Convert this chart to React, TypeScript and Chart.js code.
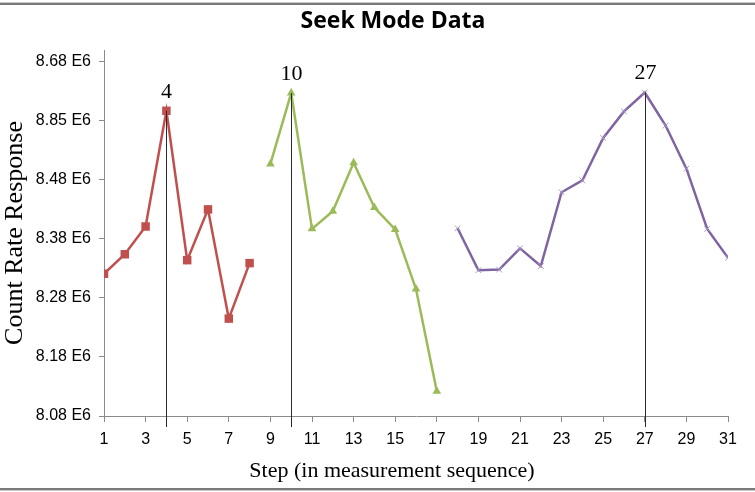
import { useEffect, useRef } from 'react';
import { Chart, registerables } from 'chart.js';

Chart.register(...registerables);

// Step numbers (x) and count-rate readings in units of 1E6 (y) for each seek phase
const stepsA = [1, 2, 3, 4, 5, 6, 7, 8];
const valuesA = [8.321, 8.354, 8.401, 8.597, 8.344, 8.43, 8.245, 8.339];

const stepsB = [9, 10, 11, 12, 13, 14, 15, 16, 17];
const valuesB = [8.507, 8.627, 8.397, 8.427, 8.509, 8.433, 8.396, 8.295, 8.122];

const stepsC = [18, 19, 20, 21, 22, 23, 24, 25, 26, 27, 28, 29, 30, 31];
const valuesC = [8.398, 8.327, 8.328, 8.364, 8.334, 8.459, 8.479, 8.551, 8.596, 8.628, 8.572, 8.499, 8.397, 8.348];

// Axis ticks
const xTickSteps = [1, 3, 5, 7, 9, 11, 13, 15, 17, 19, 21, 23, 25, 27, 29, 31];
const yTickValues = [8.08, 8.18, 8.28, 8.38, 8.48, 8.58, 8.68];
const yTickLabels = ['8.08 E6', '8.18 E6', '8.28 E6', '8.38 E6', '8.48 E6', '8.85 E6', '8.68 E6'];

// Steps where each phase peaks, marked with a drop line and its step number
const peakSteps = [4, 10, 27];

const TITLE = 'Seek Mode Data';
const X_TITLE = 'Step (in measurement sequence)';
const Y_TITLE = 'Count Rate Response';

const toPoints = (xs: number[], ys: number[]) => xs.map((x, i) => ({ x, y: ys[i] }));

const annotations = {
  id: 'seekAnnotations',
  afterDatasetsDraw(chart: any) {
    const { ctx, scales, chartArea, data } = chart;
    const xs = scales.x;
    const ys = scales.y;
    ctx.save();

    // drop lines and step labels at the peaks
    peakSteps.forEach((step) => {
      let val: number | null = null;
      data.datasets.forEach((ds: any) => {
        ds.data.forEach((p: any) => {
          if (p.x === step) val = p.y;
        });
      });
      if (val === null) return;
      const px = Math.round(xs.getPixelForValue(step)) + 0.5;
      const py = ys.getPixelForValue(val);
      ctx.strokeStyle = '#2a2a2a';
      ctx.lineWidth = 1;
      ctx.beginPath();
      ctx.moveTo(px, py);
      ctx.lineTo(px, chartArea.bottom + 11);
      ctx.stroke();

      ctx.fillStyle = '#000';
      ctx.font = '22px "Liberation Serif", "Times New Roman", serif';
      ctx.textAlign = 'center';
      ctx.textBaseline = 'middle';
      ctx.fillText(String(step), px, py - 19);
    });

    // chart title
    ctx.fillStyle = '#000';
    ctx.font = 'bold 23px "Open Sans", sans-serif';
    ctx.textAlign = 'center';
    ctx.textBaseline = 'middle';
    ctx.fillText(TITLE, 393, 21);

    // axis titles
    ctx.font = '22px "Liberation Serif", "Times New Roman", serif';
    ctx.fillText(X_TITLE, 392, 471);

    ctx.save();
    ctx.translate(15, (chartArea.top + chartArea.bottom) / 2);
    ctx.rotate(-Math.PI / 2);
    ctx.font = '26px "Liberation Serif", "Times New Roman", serif';
    ctx.fillText(Y_TITLE, 0, 0);
    ctx.restore();

    // frame rules along the top and bottom edges
    ctx.fillStyle = '#7a7a7a';
    ctx.fillRect(0, 3, chart.width, 2);
    ctx.fillRect(0, 488, chart.width, 2);
    ctx.fillStyle = '#c8c8c8';
    ctx.fillRect(0, 2, chart.width, 1);
    ctx.fillRect(0, 490, chart.width, 1);

    ctx.restore();
  },
};

export default function App() {
  const canvasRef = useRef<HTMLCanvasElement | null>(null);

  useEffect(() => {
    const canvas = canvasRef.current;
    if (!canvas) return;
    const axisGrey = '#8a8a8a';

    const chart = new Chart(canvas, {
      type: 'line',
      data: {
        datasets: [
          {
            data: toPoints(stepsA, valuesA),
            borderColor: '#C0504D',
            backgroundColor: '#C0504D',
            borderWidth: 2.5,
            pointStyle: 'rect',
            pointRadius: 6,
            pointBorderWidth: 0,
            tension: 0,
          },
          {
            data: toPoints(stepsB, valuesB),
            borderColor: '#9BBB59',
            backgroundColor: '#9BBB59',
            borderWidth: 2.5,
            pointStyle: 'triangle',
            pointRadius: 5,
            pointBorderWidth: 0,
            tension: 0,
          },
          {
            data: toPoints(stepsC, valuesC),
            borderColor: '#8064A2',
            backgroundColor: '#8064A2',
            borderWidth: 2.5,
            pointStyle: 'crossRot',
            pointRadius: 4,
            pointBorderWidth: 1,
            pointBorderColor: '#a898c4',
            tension: 0,
          },
        ],
      },
      options: {
        responsive: false,
        animation: false,
        layout: { padding: { top: 50, right: 27, left: 0, bottom: 0 } },
        plugins: {
          legend: { display: false },
          title: { display: false },
          tooltip: { enabled: false },
        },
        scales: {
          x: {
            type: 'linear',
            min: 1,
            max: 31,
            afterBuildTicks: (scale: any) => {
              scale.ticks = xTickSteps.map((v) => ({ value: v }));
            },
            afterFit: (scale: any) => {
              scale.height = 76;
            },
            grid: { drawOnChartArea: false, drawTicks: true, tickLength: 6, color: axisGrey },
            border: { display: true, color: axisGrey, width: 1 },
            ticks: {
              autoSkip: false,
              maxRotation: 0,
              padding: 8,
              color: '#000',
              font: { family: '"Liberation Sans", Arial, sans-serif', size: 16 },
              callback: (v: any) => String(v),
            },
          },
          y: {
            type: 'linear',
            min: 8.08,
            max: 8.7,
            afterBuildTicks: (scale: any) => {
              scale.ticks = yTickValues.map((v) => ({ value: v }));
            },
            afterFit: (scale: any) => {
              scale.width = 104;
            },
            grid: { drawOnChartArea: false, drawTicks: true, tickLength: 5, color: axisGrey },
            border: { display: true, color: axisGrey, width: 1 },
            ticks: {
              padding: 8,
              color: '#000',
              font: { family: '"Liberation Sans", Arial, sans-serif', size: 16 },
              callback: (v: any) => {
                const i = yTickValues.findIndex((t) => Math.abs(t - Number(v)) < 1e-6);
                return i >= 0 ? yTickLabels[i] : '';
              },
            },
          },
        },
      },
      plugins: [annotations],
    });

    return () => chart.destroy();
  }, []);

  return (
    <div style={{ position: 'absolute', left: 0, top: 0, width: 755, height: 492, background: '#fff' }}>
      <canvas ref={canvasRef} width={755} height={492} style={{ display: 'block' }} />
    </div>
  );
}
